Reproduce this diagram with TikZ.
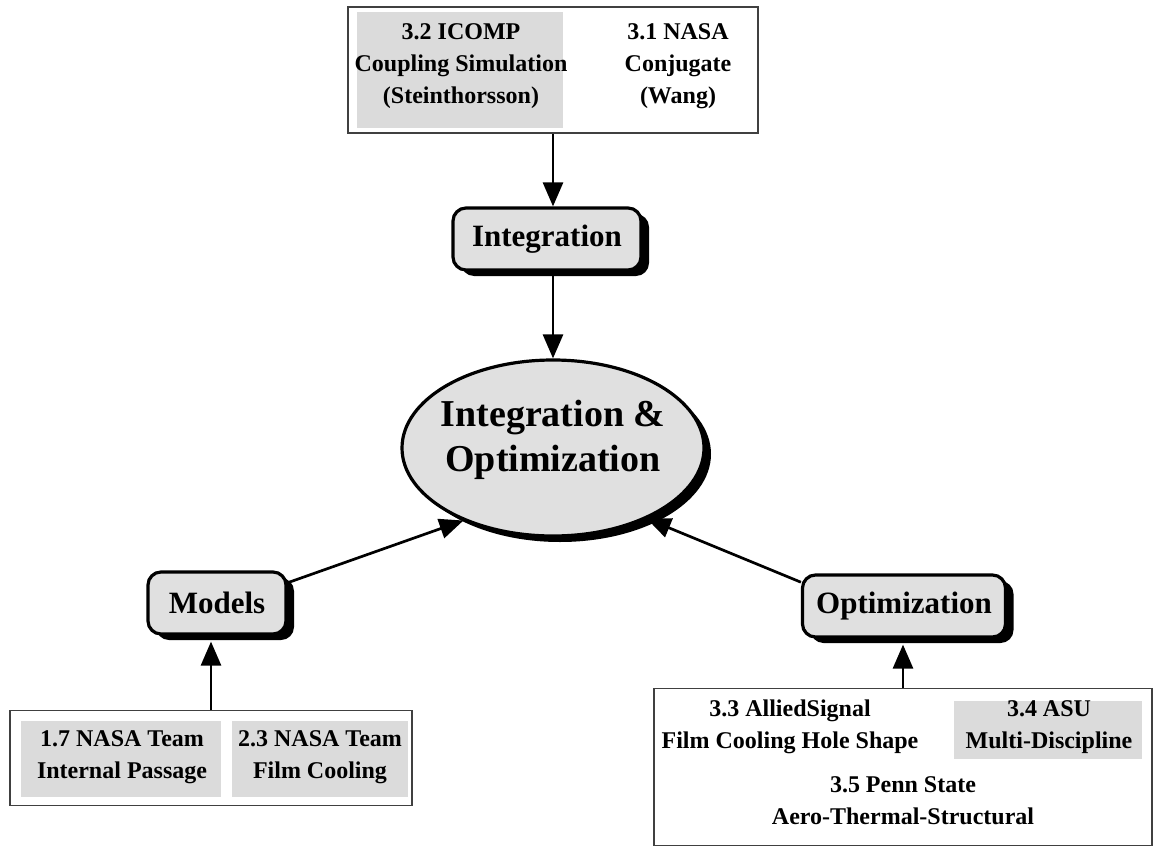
\documentclass[tikz,border=0pt]{standalone}
\usepackage{fontspec}
\setmainfont{Liberation Serif}
\usetikzlibrary{arrows.meta,shapes.geometric,shadows,calc}

\tikzset{
  textS/.style={font=\bfseries\fontsize{24}{32}\selectfont, align=center, inner sep=0pt},
  framebox/.style={draw=black!75, line width=1.1pt, fill=white, inner sep=0pt},
  graybox/.style={fill=black!14, draw=none, inner sep=0pt},
  hubbox/.style={draw=black, line width=3.2pt, rounded corners=13pt, fill=black!12,
    minimum height=62pt, inner sep=0pt, font=\bfseries\fontsize{31}{36}\selectfont,
    drop shadow={shadow xshift=8pt, shadow yshift=-6pt, fill=black, opacity=1}},
  centre/.style={ellipse, draw=black, line width=3.2pt, fill=black!12, inner sep=0pt,
    minimum width=302pt, minimum height=176pt,
    drop shadow={shadow xshift=7pt, shadow yshift=-6pt, fill=black, opacity=1}},
  centretext/.style={align=center, inner sep=0pt,
    font=\bfseries\fontsize{38}{45}\selectfont},
  arr/.style={line width=2.7pt, -{Triangle[length=24pt,width=20pt]}}
}

\begin{document}
\begin{tikzpicture}[x=1pt,y=-1pt]
\useasboundingbox (0,0) rectangle (1157,851);

% top group
\node[framebox, minimum width=410pt, minimum height=126pt] (top) at (553,70) {};
\node[graybox, minimum width=206pt, minimum height=116pt] (icompbg) at (460,70) {};
\node[textS] (icomp) at (461,66) {3.2 ICOMP\\Coupling Simulation\\(Steinthorsson)};
\node[textS] (nasa) at (678,66) {3.1 NASA\\Conjugate\\(Wang)};

% hub boxes
\node[hubbox, minimum width=188pt] (integ) at (547,239) {Integration};
\node[hubbox, minimum width=138pt] (models) at (217,603) {Models};
\node[hubbox, minimum width=203pt] (opt) at (904,606) {Optimization};

% central ellipse
\node[centre] (io) at (553,448) {};
\node[centretext] (iotext) at (553,440) {Integration \&\\Optimization};

% bottom-left group
\node[framebox, minimum width=402pt, minimum height=95pt] (bl) at (211,758) {};
\node[graybox, minimum width=200pt, minimum height=76pt] (passbg) at (121,759) {};
\node[graybox, minimum width=176pt, minimum height=76pt] (filmbg) at (320,759) {};
\node[textS] (pass) at (122,757) {1.7 NASA Team\\Internal Passage};
\node[textS] (film) at (320,757) {2.3 NASA Team\\Film Cooling};

% bottom-right group
\node[framebox, minimum width=498pt, minimum height=157pt] (br) at (903,767) {};
\node[textS] (allied) at (790,727) {3.3 AlliedSignal\\Film Cooling Hole Shape};
\node[graybox, minimum width=188pt, minimum height=58pt] (asubg) at (1048,730) {};
\node[textS] (asu) at (1049,727) {3.4 ASU\\Multi-Discipline};
\node[textS] (penn) at (903,801) {3.5 Penn State\\Aero-Thermal-Structural};

% connectors
\draw[arr] (top.south) -- (top.south |- integ.north);
\draw[arr] (top.south |- integ.south) -- (io.north);
\draw[arr] (models.16) -- (io.219.5);
\draw[arr] (opt.167) -- (io.323.5);
\draw[arr] (bl.north) -- ([yshift=-6pt]bl.north |- models.south);
\draw[arr] (br.north) -- ([yshift=-6pt]br.north |- opt.south);
\end{tikzpicture}
\end{document}
